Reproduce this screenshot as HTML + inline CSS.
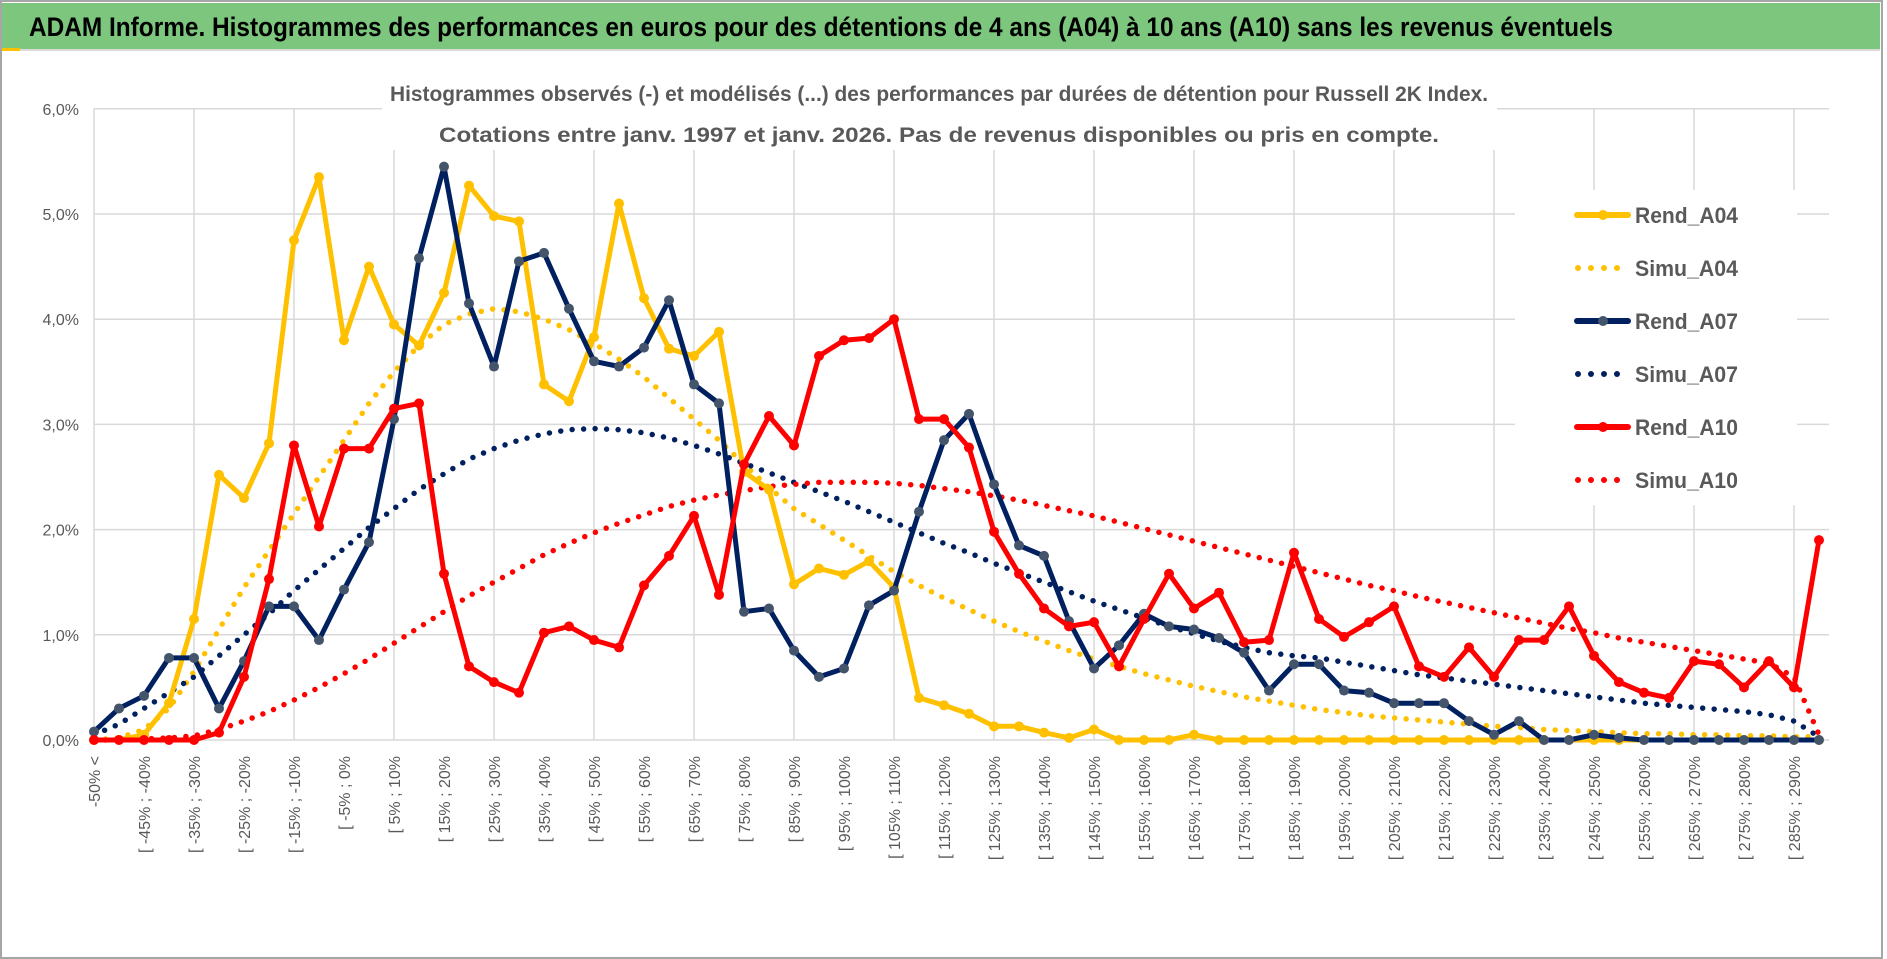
<!DOCTYPE html>
<html><head><meta charset="utf-8">
<style>
html,body{margin:0;padding:0;background:#fff;}
svg{display:block;}
text{font-family:"Liberation Sans",sans-serif;}
</style></head>
<body>
<svg id="chart" width="1887" height="959" viewBox="0 0 1887 959" xmlns="http://www.w3.org/2000/svg">
  <rect x="0" y="0" width="1887" height="959" fill="#fff"/>
  <rect x="1" y="1" width="1881" height="957" fill="none" stroke="#a6a6a6" stroke-width="2"/>
  <rect x="2" y="3" width="1878" height="46" fill="#7dc67e"/>
  <rect x="2" y="48" width="18" height="3" fill="#ffc000"/>
  <line x1="20" y1="50" x2="1880" y2="50" stroke="#d0d0d0" stroke-width="1.5"/>
  <text x="29" y="36" font-size="27" font-weight="bold" fill="#000" textLength="1584" lengthAdjust="spacingAndGlyphs">ADAM Informe. Histogrammes des performances en euros pour des détentions de 4 ans (A04) à 10 ans (A10) sans les revenus éventuels</text>
  <g id="grid"></g>
  <rect x="382" y="66" width="1115" height="84" fill="#fff"/>
  <text x="939" y="101" font-size="21" font-weight="bold" fill="#595959" text-anchor="middle" textLength="1098" lengthAdjust="spacingAndGlyphs">Histogrammes observés (-) et modélisés (...) des performances par durées de détention pour Russell 2K Index.</text>
  <text x="939" y="142" font-size="21" font-weight="bold" fill="#595959" text-anchor="middle" textLength="1000" lengthAdjust="spacingAndGlyphs">Cotations entre janv. 1997 et janv. 2026. Pas de revenus disponibles ou pris en compte.</text>
  <g id="yaxis"></g>
  <g id="xaxis"></g>
  <g id="series"></g>
  <g id="legend"></g>
</svg>
<script>
const rendA04 = [0,0,0.05,0.35,1.15,2.52,2.3,2.82,4.75,5.35,3.8,4.5,3.95,3.75,4.25,5.27,4.98,4.93,3.38,3.22,3.83,5.1,4.2,3.72,3.65,3.88,2.55,2.38,1.48,1.63,1.57,1.7,1.45,0.4,0.33,0.25,0.13,0.13,0.07,0.02,0.1,0,0,0,0.05,0,0,0,0,0,0,0,0,0,0,0,0,0,0,0,0,0,0,0,0,0,0,0,0,0];
const simuA04 = [0,0.02,0.1,0.3,0.65,1.05,1.45,1.8,2.15,2.5,2.85,3.2,3.5,3.75,3.95,4.05,4.1,4.07,4.0,3.9,3.77,3.62,3.45,3.25,3.05,2.85,2.62,2.4,2.2,2.05,1.9,1.75,1.6,1.47,1.35,1.24,1.13,1.03,0.94,0.85,0.77,0.7,0.63,0.57,0.51,0.46,0.41,0.37,0.33,0.29,0.26,0.23,0.21,0.19,0.17,0.15,0.13,0.12,0.1,0.09,0.08,0.07,0.06,0.06,0.05,0.05,0.04,0.04,0.03,0.03];
const rendA07 = [0.08,0.3,0.42,0.78,0.78,0.3,0.75,1.27,1.27,0.95,1.43,1.88,3.05,4.58,5.45,4.15,3.55,4.55,4.63,4.1,3.6,3.55,3.73,4.18,3.38,3.2,1.22,1.25,0.85,0.6,0.68,1.28,1.42,2.17,2.85,3.1,2.43,1.85,1.75,1.13,0.68,0.9,1.2,1.08,1.05,0.97,0.83,0.47,0.72,0.72,0.47,0.45,0.35,0.35,0.35,0.18,0.05,0.18,0,0,0.05,0.02,0,0,0,0,0,0,0,0];
const simuA07 = [0.05,0.15,0.3,0.45,0.6,0.8,1.0,1.2,1.42,1.62,1.82,2.02,2.2,2.38,2.53,2.67,2.77,2.85,2.91,2.95,2.96,2.95,2.92,2.87,2.8,2.72,2.63,2.54,2.45,2.36,2.27,2.17,2.07,1.97,1.87,1.78,1.68,1.59,1.5,1.41,1.32,1.24,1.16,1.08,1.01,0.94,0.88,0.83,0.8,0.78,0.74,0.7,0.66,0.62,0.59,0.56,0.53,0.5,0.47,0.44,0.41,0.38,0.35,0.33,0.31,0.29,0.27,0.24,0.18,0.03];
const rendA10 = [0,0,0,0,0,0.07,0.6,1.53,2.8,2.03,2.77,2.77,3.15,3.2,1.58,0.7,0.55,0.45,1.02,1.08,0.95,0.88,1.47,1.75,2.13,1.38,2.62,3.08,2.8,3.65,3.8,3.82,4.0,3.05,3.05,2.78,1.98,1.58,1.25,1.08,1.12,0.7,1.15,1.58,1.25,1.4,0.93,0.95,1.78,1.15,0.98,1.12,1.27,0.7,0.6,0.88,0.6,0.95,0.95,1.27,0.8,0.55,0.45,0.4,0.75,0.72,0.5,0.75,0.5,1.9];
const simuA10 = [0,0,0.01,0.02,0.04,0.1,0.18,0.27,0.38,0.5,0.63,0.77,0.92,1.07,1.22,1.37,1.5,1.63,1.76,1.87,1.97,2.06,2.14,2.22,2.28,2.33,2.37,2.41,2.43,2.45,2.45,2.45,2.44,2.42,2.39,2.36,2.32,2.28,2.23,2.18,2.13,2.07,2.01,1.95,1.89,1.83,1.77,1.71,1.65,1.59,1.53,1.47,1.42,1.36,1.31,1.26,1.21,1.16,1.11,1.06,1.02,0.97,0.93,0.89,0.85,0.81,0.77,0.73,0.6,0.05];
const yTicks = [0,1,2,3,4,5,6];
const yTickLabels = ["0,0%","1,0%","2,0%","3,0%","4,0%","5,0%","6,0%"];
const categories = ["-50% <"];
for (let k = -50; k < 295; k += 5) categories.push("[ " + k + "% ; " + (k + 5) + "%");

const NS = "http://www.w3.org/2000/svg";
const X0 = 94, DX = 25, Y0 = 740, DY = 105.2;
function xPos(i){ return X0 + i * DX; }
function yPos(v){ return Y0 - v * DY; }
function mk(tag, attrs, parent){
  const e = document.createElementNS(NS, tag);
  for (const k in attrs) e.setAttribute(k, attrs[k]);
  parent.appendChild(e);
  return e;
}
const grid = document.getElementById('grid');
const xRight = xPos(categories.length - 1) + 10;
yTicks.forEach((t, j) => {
  const l = mk('line', {x1: X0, x2: xRight, y1: yPos(t), y2: yPos(t), stroke: '#d9d9d9', 'stroke-width': 1.5}, grid);
  
  
});
for (let i = 0; i < categories.length; i += 4) {
  const l = mk('line', {x1: xPos(i), x2: xPos(i), y1: yPos(6), y2: Y0, stroke: '#d9d9d9', 'stroke-width': 1.5}, grid);
  
  
}
const yaxis = document.getElementById('yaxis');
yTicks.forEach((t, j) => {
  const tx = mk('text', {x: 79, y: yPos(t) + 6, 'font-size': 16, fill: '#595959', 'text-anchor': 'end'}, yaxis);
  tx.textContent = yTickLabels[j];
  
  
});
const xaxis = document.getElementById('xaxis');
for (let i = 0; i < categories.length; i += 2) {
  const x = xPos(i) + 6, y = 756;
  const tx = mk('text', {x: x, y: y, 'font-size': 16, fill: '#595959', 'text-anchor': 'end', transform: 'rotate(-90 ' + x + ' ' + y + ')'}, xaxis);
  tx.textContent = categories[i];
  
  
}
const legendBox = mk('rect', {x: 1515, y: 190, width: 282, height: 315, fill: '#fff'}, document.getElementById('legend'));



const series = [
  {name: 'simu-a04', data: simuA04, color: '#ffc000', dotted: true},
  {name: 'simu-a07', data: simuA07, color: '#002060', dotted: true},
  {name: 'simu-a10', data: simuA10, color: '#ff0000', dotted: true},
  {name: 'rend-a04', data: rendA04, color: '#ffc000', marker: '#ffc000'},
  {name: 'rend-a07', data: rendA07, color: '#002060', marker: '#44546a'},
  {name: 'rend-a10', data: rendA10, color: '#ff0000', marker: '#ff0000'}
];
const sg = document.getElementById('series');
series.forEach(s => {
  const g = mk('g', {}, sg);
  
  
  const pts = s.data.map((v, i) => xPos(i).toFixed(1) + ',' + yPos(v).toFixed(1)).join(' ');
  const attrs = {points: pts, fill: 'none', stroke: s.color, 'stroke-linejoin': 'round'};
  if (s.dotted) { attrs['stroke-width'] = 5.5; attrs['stroke-dasharray'] = '0 11.5'; attrs['stroke-linecap'] = 'round'; }
  else { attrs['stroke-width'] = 5; attrs['stroke-linecap'] = 'round'; }
  const pl = mk('polyline', attrs, g);
  
  
  if (s.marker) {
    s.data.forEach((v, i) => {
      const c = mk('circle', {cx: xPos(i), cy: yPos(v), r: 5, fill: s.marker}, g);
      
      
    });
  }
});
const legendItems = [
  {label: 'Rend_A04', color: '#ffc000', marker: '#ffc000', y: 215},
  {label: 'Simu_A04', color: '#ffc000', dotted: true, y: 268},
  {label: 'Rend_A07', color: '#002060', marker: '#44546a', y: 321},
  {label: 'Simu_A07', color: '#002060', dotted: true, y: 374},
  {label: 'Rend_A10', color: '#ff0000', marker: '#ff0000', y: 427},
  {label: 'Simu_A10', color: '#ff0000', dotted: true, y: 480}
];
const lg = document.getElementById('legend');
legendItems.forEach(it => {
  const g = mk('g', {}, lg);
  
  
  if (it.dotted) {
    mk('line', {x1: 1578, x2: 1630, y1: it.y, y2: it.y, stroke: it.color, 'stroke-width': 6, 'stroke-dasharray': '0 13', 'stroke-linecap': 'round'}, g);
  } else {
    mk('line', {x1: 1577, x2: 1628, y1: it.y, y2: it.y, stroke: it.color, 'stroke-width': 6, 'stroke-linecap': 'round'}, g);
    mk('circle', {cx: 1603, cy: it.y, r: 5, fill: it.marker}, g);
  }
  const t = mk('text', {x: 1635, y: it.y + 8, 'font-size': 22, 'font-weight': 'bold', fill: '#595959', textLength: 103, lengthAdjust: 'spacingAndGlyphs'}, g);
  t.textContent = it.label;
});
</script>
</body></html>
